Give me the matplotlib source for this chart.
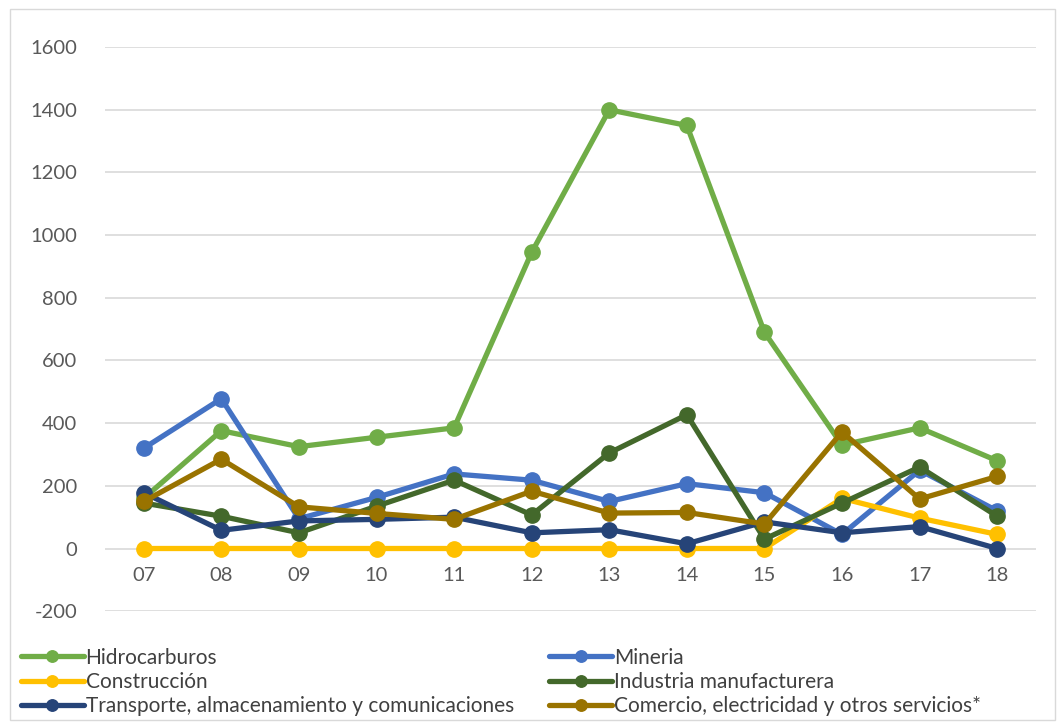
import matplotlib.pyplot as plt
from matplotlib.patches import Rectangle

plt.rcParams['font.family'] = ['Lato', 'DejaVu Sans']
plt.rcParams['axes.unicode_minus'] = False

years = ['07', '08', '09', '10', '11', '12', '13', '14', '15', '16', '17', '18']
hidrocarburos = [160, 376, 325, 355, 385, 945, 1400, 1350, 690, 330, 385, 280]
mineria = [320, 478, 95, 163, 238, 218, 150, 207, 178, 45, 250, 120]
construccion = [0, 0, 0, 0, 0, 0, 0, 0, 0, 160, 97, 45]
industria = [145, 103, 50, 135, 218, 107, 305, 427, 30, 145, 260, 103]
transporte = [178, 58, 88, 93, 100, 50, 60, 15, 85, 50, 70, 0]
comercio = [150, 285, 133, 112, 93, 183, 113, 115, 78, 372, 158, 230]

series = [
    ('Hidrocarburos', hidrocarburos, '#70ad47'),
    ('Mineria', mineria, '#4472c4'),
    ('Construcción', construccion, '#ffc000'),
    ('Industria manufacturera', industria, '#43682b'),
    ('Transporte, almacenamiento y comunicaciones', transporte, '#264478'),
    ('Comercio, electricidad y otros servicios*', comercio, '#997300'),
]

fig = plt.figure(figsize=(10.58, 7.25), dpi=100)
ax = fig.add_axes([0.0992, 0.157, 0.8800, 0.778])

x = list(range(len(years)))
for name, vals, col in series:
    ax.plot(x, vals, color=col, lw=3.8, marker='o', ms=11, label=name,
            solid_joinstyle='round', solid_capstyle='round')

ax.set_xlim(-0.5, len(years) - 0.5)
ax.set_ylim(-200, 1600)
ax.set_yticks(range(-200, 1601, 200))
ax.set_xticks(x)
ax.set_xticklabels(years)
ax.grid(axis='y', color='#d9d9d9', lw=1.2)
ax.set_axisbelow(True)
for s in ['top', 'right', 'left']:
    ax.spines[s].set_visible(False)
ax.spines['bottom'].set_position(('data', 0))
ax.spines['bottom'].set_visible(False)
ax.tick_params(axis='both', length=0, labelsize=14.5, colors='#595959')
ax.tick_params(axis='x', pad=13)
ax.tick_params(axis='y', pad=20)

handles, labels = ax.get_legend_handles_labels()
order = [0, 2, 4, 1, 3, 5]
leg = fig.legend([handles[i] for i in order], [labels[i] for i in order],
                 loc='upper left', bbox_to_anchor=(0.012, 0.118), ncol=2,
                 frameon=False, fontsize=15, handlelength=3.0,
                 handletextpad=0.1, columnspacing=1.7, labelspacing=0.2,
                 borderaxespad=0, markerscale=0.75)
for t in leg.get_texts():
    t.set_color('#404040')

fig.patches.append(Rectangle((0.009, 0.007), 0.988, 0.98, transform=fig.transFigure,
                             fill=False, edgecolor='#d9d9d9', lw=1))

fig.savefig('out.png', dpi=100)
